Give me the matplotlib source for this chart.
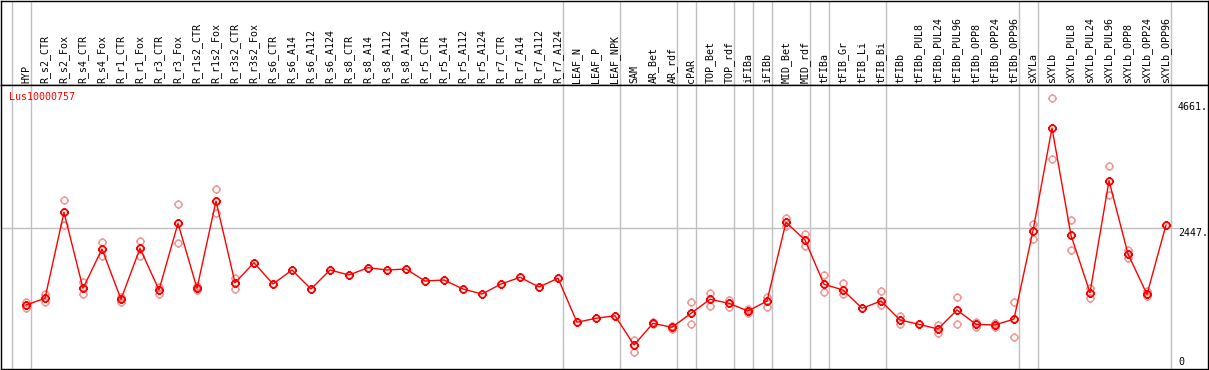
import matplotlib
matplotlib.use("Agg")
import matplotlib.pyplot as plt
import matplotlib.transforms as mtransforms
from matplotlib.path import Path
import numpy as np

gene = "Lus10000757"

samples = ["HYP", "R_s2_CTR", "R_s2_Fox", "R_s4_CTR", "R_s4_Fox", "R_r1_CTR", "R_r1_Fox",
           "R_r3_CTR", "R_r3_Fox", "R_r1s2_CTR", "R_r1s2_Fox", "R_r3s2_CTR", "R_r3s2_Fox",
           "R_s6_CTR", "R_s6_A14", "R_s6_A112", "R_s6_A124", "R_s8_CTR", "R_s8_A14",
           "R_s8_A112", "R_s8_A124", "R_r5_CTR", "R_r5_A14", "R_r5_A112", "R_r5_A124",
           "R_r7_CTR", "R_r7_A14", "R_r7_A112", "R_r7_A124", "LEAF_N", "LEAF_P", "LEAF_NPK",
           "SAM", "AR_Bet", "AR_rdf", "cPAR", "TOP_Bet", "TOP_rdf", "iFIBa", "iFIBb",
           "MID_Bet", "MID_rdf", "tFIBa", "tFIB_Gr", "tFIB_Li", "tFIB_Bi", "tFIBb",
           "tFIBb_PUL8", "tFIBb_PUL24", "tFIBb_PUL96", "tFIBb_OPP8", "tFIBb_OPP24",
           "tFIBb_OPP96", "sXYLa", "sXYLb", "sXYLb_PUL8", "sXYLb_PUL24", "sXYLb_PUL96",
           "sXYLb_OPP8", "sXYLb_OPP24", "sXYLb_OPP96"]

mean_expr = [1043, 1166, 2740, 1349, 2068, 1147, 2081, 1318, 2538, 1349, 2946, 1451, 1817,
             1427, 1684, 1336, 1684, 1592, 1726, 1684, 1702, 1482, 1501, 1336, 1244, 1427,
             1550, 1373, 1532, 727, 800, 847, 311, 708, 635, 891, 1147, 1074, 933, 1116,
             2557, 2233, 1422, 1318, 983, 1116, 769, 690, 604, 952, 690, 677, 787, 2403,
             4282, 2319, 1268, 3318, 1976, 1239, 2507]

nan = np.nan
rep_a = [1093, 1239, 2965, 1459, 2191, 1195, 2214, 1378, 2891, 1391, 3166, 1543, nan,
         nan, nan, nan, nan, nan, nan, nan, nan, nan, nan, nan, nan, nan,
         nan, nan, nan, nan, nan, nan, 403, 727, 660, 1093, 1257, 1135, 975, 1195,
         2630, 2337, 1592, 1451, nan, 1299, 847, nan, 677, 1184, 727, 714, 1093, 2520,
         4826, 2599, 1349, 3581, 2050, 1299, nan]
rep_b = [993, 1104, 2507, 1239, 1945, 1104, 1945, 1239, 2172, 1318, 2721, 1336, nan,
         nan, nan, nan, nan, nan, nan, nan, nan, nan, nan, nan, nan, nan,
         nan, nan, nan, nan, nan, nan, 190, 695, 609, 690, 1030, 1001, 891, 1001,
         2489, 2128, 1276, 1244, nan, 1043, 690, nan, 536, 690, 646, 640, 463, 2245,
         3709, 2044, 1177, 3051, 1909, 1208, nan]

# last sample index of each group (separator drawn after it)
group_ends = [-1, 0, 28, 31, 34, 35, 37, 38, 39, 41, 42, 45, 52, 53, 60]
y_marks = [0, 2447, 4661]

W, H = 1209, 370
def fx(p):
    return p / W
def fy(p):
    return 1 - p / H

# pixel layout: sample i at x = 26 + 19*i, value 0 at y = 362, 2447 at y = 228.3
step, x0 = 19.0, 26.0
yscale, ybase = 0.05464, 362.0
xlim = ((1 - x0) / step, (1208 - x0) / step)
ylim = ((ybase - 369) / yscale, (ybase - 85) / yscale)

mono = "DejaVu Sans Mono"
fs = 7.2
grid_c = "#c0c0c0"

fig = plt.figure(figsize=(W / 100, H / 100), dpi=100)
hdr = fig.add_axes([fx(1), fy(85), fx(1208) - fx(1), fy(0.5) - fy(85)])
ax = fig.add_axes([fx(1), fy(369), fx(1208) - fx(1), fy(85) - fy(369)])

for a in (hdr, ax):
    a.set_xlim(*xlim)
    a.set_xticks([])
    a.set_yticks([])
    for s in a.spines.values():
        s.set_color("black")
        s.set_linewidth(1)
    for g in group_ends:
        a.axvline(g + 0.25, color=grid_c, lw=1, zorder=0)

ax.set_ylim(*ylim)
hdr.set_ylim(0, 1)

# sample labels in header
trans = mtransforms.blended_transform_factory(hdr.transData, hdr.transAxes)
for i, s in enumerate(samples):
    hdr.text(i, 0.02, s, rotation=90, ha="center", va="bottom", fontsize=fs,
             family=mono, transform=trans)

# horizontal grid line at mid value
ax.axhline(y_marks[1], xmin=0, xmax=(1178 - 1) / 1207, color=grid_c, lw=1, zorder=0)

# marker: open circle with tiny ticks
circ = Path.unit_circle()
ticks = Path([(1, 0), (1.35, 0), (-1, 0), (-1.35, 0), (0, 1), (0, 1.35), (0, -1), (0, -1.35)],
             [Path.MOVETO, Path.LINETO] * 4)
mk = Path.make_compound_path(circ, ticks)

xs = np.arange(len(samples))
ax.plot(xs, rep_a, linestyle="none", marker=mk, markersize=6.5, mfc="none",
        mec="#f29a9a", mew=1.1, zorder=2)
ax.plot(xs, rep_b, linestyle="none", marker=mk, markersize=6.5, mfc="none",
        mec="#f29a9a", mew=1.1, zorder=2)
ax.plot(xs, mean_expr, color="red", lw=1, marker=mk, markersize=6.5, mfc="none",
        mec="red", mew=1.3, zorder=3)

# value labels at right
lab_x = (1178 - x0) / step
ax.text(lab_x, y_marks[2], "%d." % y_marks[2], ha="left", va="center", fontsize=fs, family=mono)
ax.text(lab_x, y_marks[1], "%d." % y_marks[1], ha="left", va="top", fontsize=fs, family=mono)
ax.text(lab_x, y_marks[0], "%d" % y_marks[0], ha="left", va="center", fontsize=fs, family=mono)

fig.text(fx(9), fy(92), gene, color="red", ha="left", va="top", fontsize=fs, family=mono)

fig.savefig("out.png", dpi=100)
plt.close()
